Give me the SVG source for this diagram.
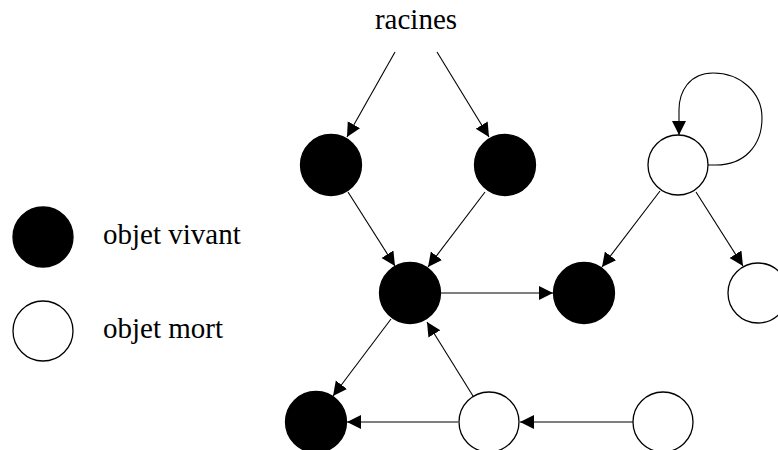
<svg xmlns="http://www.w3.org/2000/svg" width="778" height="450" viewBox="0 0 778 450">
<style>
.live{fill:#000;stroke:#000;stroke-width:1.3}
.dead{fill:#fff;stroke:#000;stroke-width:1.3}
.lbl{font-family:"Liberation Serif","Times New Roman",serif;font-size:29px;fill:#000}
.edge{fill:none;stroke:#000;stroke-width:1.1;marker-end:url(#arr)}
</style>
<defs>
<marker id="arr" markerUnits="userSpaceOnUse" markerWidth="15" markerHeight="15" refX="14" refY="7" orient="auto">
<path d="M0,0 L14,7 L0,14 z" fill="#000"/>
</marker>
</defs>
<rect width="778" height="450" fill="#fff"/>
<text class="lbl" x="416" y="29" text-anchor="middle">racines</text>
<g id="legend-live"><circle class="live" cx="43" cy="237" r="30"/><text class="lbl" x="103" y="244">objet vivant</text></g>
<g id="legend-dead"><circle class="dead" cx="43" cy="331" r="30"/><text class="lbl" x="103" y="338">objet mort</text></g>
<g id="connectors">
<path class="edge" d="M395,52 L347,137"/>
<path class="edge" d="M437,52 L489,137"/>
<path class="edge" d="M348,192 L395,266"/>
<path class="edge" d="M485,192 L428,267"/>
<path class="edge" d="M441,293 L553,293"/>
<path class="edge" d="M660,191 L602,267"/>
<path class="edge" d="M696,192 L743,266"/>
<path class="edge" d="M708,165 L716,165 C744,165 762,146 762,118 C762,92 740,73 713,73 C689,73 679,92 679,110 L679,135"/>
<path class="edge" d="M391,319 L333,396"/>
<path class="edge" d="M473,396 L427,322"/>
<path class="edge" d="M458,422 L347,422"/>
<path class="edge" d="M633,422 L520,422"/>
</g>
<g id="nA"><circle class="live" cx="331" cy="165" r="30.5"/></g>
<g id="nB"><circle class="live" cx="505" cy="165" r="30.5"/></g>
<g id="nC"><circle class="dead" cx="678" cy="165" r="30"/></g>
<g id="nD"><circle class="live" cx="410" cy="293" r="30.5"/></g>
<g id="nE"><circle class="live" cx="584" cy="293" r="30.5"/></g>
<g id="nF"><circle class="dead" cx="758" cy="293" r="30"/></g>
<g id="nG"><circle class="live" cx="316" cy="422" r="30.5"/></g>
<g id="nH"><circle class="dead" cx="489" cy="422" r="30"/></g>
<g id="nI"><circle class="dead" cx="663" cy="422" r="30"/></g>
</svg>
